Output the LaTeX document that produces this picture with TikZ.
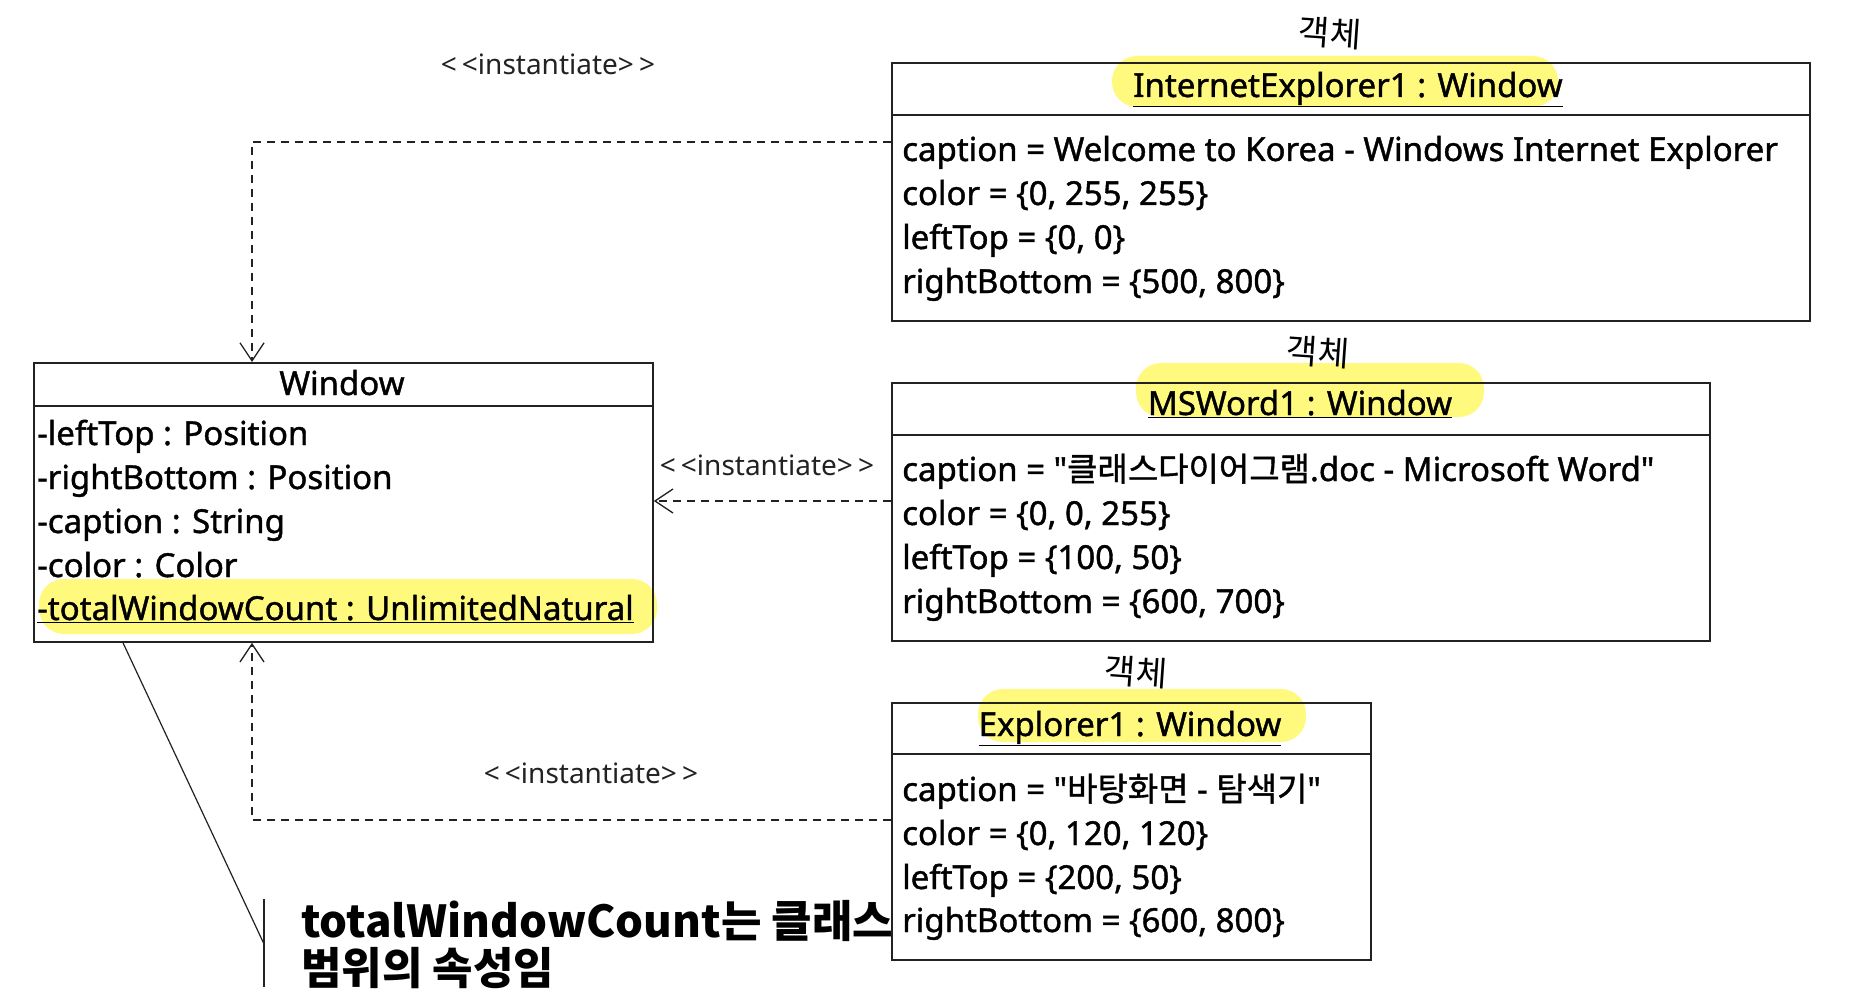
\documentclass[tikz,border=0pt]{standalone}
\usepackage{fontspec}
\setmainfont{Noto Sans}[Ligatures=TeXOff]
\newfontfamily\kr{Noto Sans CJK KR}[Ligatures=TeXOff]
\newfontfamily\attrfont{Noto Sans}[Ligatures=TeXOff, FakeBold=1.2]
\newfontfamily\krattr{Noto Sans CJK KR}[Ligatures=TeXOff, FakeBold=1.2]
\usetikzlibrary{arrows.meta,calc}
\definecolor{hl}{RGB}{255,250,125}
\definecolor{ln}{RGB}{34,34,34}
\tikzset{
 umlbox/.style={draw=ln, line width=1.8pt, anchor=north west, inner sep=0pt},
 divider/.style={draw=ln, line width=1.8pt},
 attr/.style={anchor=base west, inner sep=0pt, font=\attrfont\fontsize{33}{38}\selectfont, text=black},
 hdr/.style={anchor=base, inner sep=0pt, font=\attrfont\fontsize{33}{38}\selectfont, text=black},
 dep/.style={draw=ln, line width=1.3pt, dash pattern=on 8pt off 6pt, -{Straight Barb[length=18pt,width=24pt,line width=1.3pt]}},
 stereo/.style={inner sep=0pt, font=\fontsize{28}{32}\selectfont, text=ln},
 hilite/.style={fill=hl, rounded corners=25pt},
 hand/.style={font=\kr\fontsize{34}{40}\selectfont, inner sep=0pt},
 notetext/.style={anchor=base west, inner sep=0pt, font=\kr\bfseries\fontsize{44}{48}\selectfont},
 noteline/.style={draw=ln, line width=1.2pt},
}
\begin{document}
\begin{tikzpicture}[x=1pt,y=-1pt]
\useasboundingbox[fill=white] (0,0) rectangle (1865,1000);
% highlights
\fill[hilite] (1112,56) rectangle (1558,107);
\fill[hilite] (1136,363) rectangle (1484,417);
\fill[hilite] (978,689) rectangle (1306,742);
\fill[hilite] (39,579) rectangle (657,634);
% boxes
\node[umlbox, minimum width=619pt, minimum height=279pt] (win) at (33,362) {};
\node[umlbox, minimum width=918pt, minimum height=258pt] (ie) at (891,62) {};
\node[umlbox, minimum width=818pt, minimum height=258pt] (msw) at (891,382) {};
\node[umlbox, minimum width=479pt, minimum height=257pt] (exp) at (891,702) {};
\draw[divider] ($(win.north west)+(0,44)$) -- ($(win.north east)+(0,44)$);
\draw[divider] ($(ie.north west)+(0,53)$) -- ($(ie.north east)+(0,53)$);
\draw[divider] ($(msw.north west)+(0,53)$) -- ($(msw.north east)+(0,53)$);
\draw[divider] ($(exp.north west)+(0,52)$) -- ($(exp.north east)+(0,52)$);
% headers
\node[hdr] (winname) at (342,395) {Window};
\node[hdr] (iename) at (1348,97) {\underline{InternetExplorer1 : Window}};
\node[hdr] (mswname) at (1300,415) {\underline{MSWord1 : Window}};
\node[hdr] (expname) at (1130,736) {\underline{Explorer1 : Window}};
% class attributes
\node[attr] (wa1) at (37,445) {-leftTop : Position};
\node[attr] (wa2) at (37,489) {-rightBottom : Position};
\node[attr] (wa3) at (37,533) {-caption : String};
\node[attr] (wa4) at (37,577) {-color : Color};
\node[attr] (wa5) at (37,620) {\underline{-totalWindowCount : UnlimitedNatural}};
% IE slots
\node[attr] (ia1) at (902,161) {caption = Welcome to Korea - Windows Internet Explorer};
\node[attr] (ia2) at (902,205) {color = \{0, 255, 255\}};
\node[attr] (ia3) at (902,249) {leftTop = \{0, 0\}};
\node[attr] (ia4) at (902,293) {rightBottom = \{500, 800\}};
% MSWord slots
\node[attr] (ma1) at (902,481) {caption = "{\krattr 클래스다이어그램}.doc - Microsoft Word"};
\node[attr] (ma2) at (902,525) {color = \{0, 0, 255\}};
\node[attr] (ma3) at (902,569) {leftTop = \{100, 50\}};
\node[attr] (ma4) at (902,613) {rightBottom = \{600, 700\}};
% Explorer slots
\node[attr] (ea1) at (902,801) {caption = "{\krattr 바탕화면} - {\krattr 탐색기}"};
\node[attr] (ea2) at (902,845) {color = \{0, 120, 120\}};
\node[attr] (ea3) at (902,889) {leftTop = \{200, 50\}};
\node[attr] (ea4) at (902,932) {rightBottom = \{600, 800\}};
% handwritten marks
\node[hand, rotate=-4] (h1) at (1330,33) {객체};
\node[hand, rotate=-4] (h2) at (1318,352) {객체};
\node[hand, rotate=-4] (h3) at (1136,672) {객체};
% dependencies
\coordinate (ieout) at ($(ie.north west)+(0,80)$);
\coordinate (mswout) at ($(msw.north west)+(0,119)$);
\coordinate (expout) at ($(exp.north west)+(0,118)$);
\draw[dep] (ieout) -| ($(win.north west)+(219,0)$);
\draw[dep] (mswout) -- (win.east |- mswout);
\draw[dep] (expout) -| ($(win.south west)+(219,0)$);
\node[stereo] (lab1) at (548,64) {<\kern5pt<instantiate>\kern5pt>};
\node[stereo] (lab2) at (767,465) {<\kern5pt<instantiate>\kern5pt>};
\node[stereo] (lab3) at (591,773) {<\kern5pt<instantiate>\kern5pt>};
% note
\coordinate (na) at ($(win.south west)+(90,0)$);
\coordinate (nb) at (264,944);
\coordinate (nt) at (264,899);
\coordinate (nbot) at (264,987);
\draw[noteline] (na) -- (nb);
\draw[noteline] (nt) -- (nbot);
\node[notetext] (note1) at (301,937) {totalWindowCount는 클래스};
\node[notetext] (note2) at (301,984) {범위의 속성임};
\end{tikzpicture}
\end{document}
